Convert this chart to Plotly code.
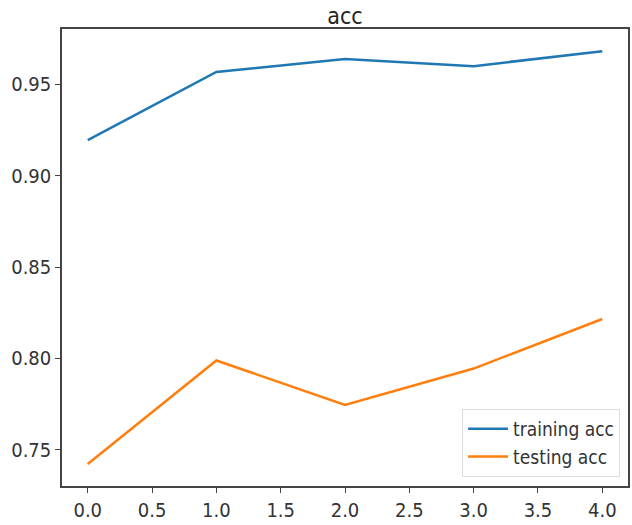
import plotly.graph_objects as go

epochs = [0, 1, 2, 3, 4]
training_acc = [0.9194, 0.9566, 0.9637, 0.9598, 0.9680]
testing_acc = [0.7423, 0.7989, 0.7746, 0.7945, 0.8216]
x_ticks = [0, 0.5, 1, 1.5, 2, 2.5, 3, 3.5, 4]
x_tick_labels = ["0.0", "0.5", "1.0", "1.5", "2.0", "2.5", "3.0", "3.5", "4.0"]
y_ticks = [0.75, 0.80, 0.85, 0.90, 0.95]
y_tick_labels = ["0.75", "0.80", "0.85", "0.90", "0.95"]

FONT = "Liberation Sans Narrow, DejaVu Sans Condensed, DejaVu Sans"

fig = go.Figure()
fig.add_trace(go.Scatter(x=epochs, y=training_acc, mode="lines", name="training acc",
                         line=dict(color="#1f77b4", width=2.5)))
fig.add_trace(go.Scatter(x=epochs, y=testing_acc, mode="lines", name="testing acc",
                         line=dict(color="#ff7f0e", width=2.5)))

axis_common = dict(showgrid=False, zeroline=False, showline=True, linecolor="#444",
                   linewidth=1.5, mirror=True, ticks="outside", ticklen=5,
                   tickcolor="#444", automargin=False,
                   tickfont=dict(family=FONT, size=20, color="#333"))
fig.update_layout(
    width=632, height=525,
    margin=dict(l=62, r=4, t=29, b=39),
    paper_bgcolor="white", plot_bgcolor="white",
    title=dict(text="acc", x=(62 + 628) / 2 / 632, xanchor="center", y=1 - 16 / 525, yanchor="middle",
               font=dict(family=FONT, size=23, color="#222")),
    xaxis=dict(range=[-0.2, 4.2], tickvals=x_ticks, ticktext=x_tick_labels, **axis_common),
    yaxis=dict(range=[0.7303, 0.9801], tickvals=y_ticks, ticktext=y_tick_labels, **axis_common),
    legend=dict(x=0.986, y=0.02, xanchor="right", yanchor="bottom",
                bordercolor="#ddd", borderwidth=1, bgcolor="rgba(255,255,255,0.8)",
                font=dict(family=FONT, size=19, color="#333"),
                itemwidth=40, tracegroupgap=2),
    showlegend=True,
)
fig.write_html("out.html", config={"displayModeBar": False},
               post_script="document.body.style.margin='0';")
